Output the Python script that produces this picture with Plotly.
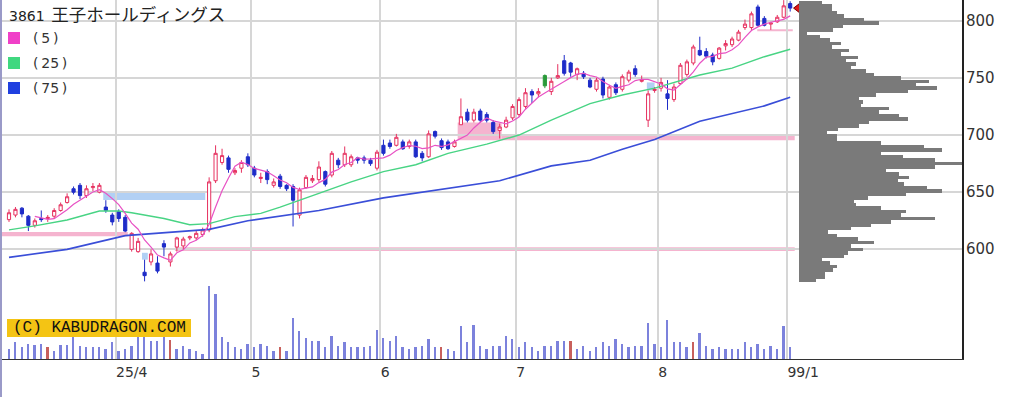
import plotly.graph_objects as go
import pandas as pd

# ---------------- data ----------------
TITLE_CODE = "3861"
TITLE_NAME = "王子ホールディングス"

opens = [626, 630, 636, 629, 621, 627, 627, 629, 634, 641, 653, 656, 647, 654, 650,
         637, 630, 633, 628, 600, 598, 580, 589, 588, 605, 589, 602, 603, 610, 610,
         613, 617, 660, 676, 680, 667, 671, 681, 671, 662, 668, 656, 664, 656, 655,
         630, 654, 660, 661, 668, 665, 678, 674, 674, 680, 680, 678, 671, 691, 693,
         691, 694, 690, 694, 684, 681, 703, 695, 694, 690, 709, 720, 713, 721, 718,
         711, 704, 707, 715, 718, 725, 738, 736, 752, 738, 750, 765, 763, 753, 754,
         748, 740, 749, 733, 744, 740, 748, 758, 747, 713, 739, 741, 736, 731, 745,
         753, 763, 774, 773, 770, 767, 778, 779, 783, 794, 794, 812, 802, 797, 799,
         803, 815]
highs = [635, 637, 637, 630, 627, 634, 630, 636, 641, 649, 655, 658, 656, 658, 658,
         643, 632, 635, 630, 615, 610, 591, 600, 594, 608, 598, 611, 611, 612, 616,
         619, 663, 691, 688, 682, 671, 678, 684, 673, 667, 670, 662, 666, 657, 657,
         654, 665, 665, 677, 669, 686, 680, 690, 683, 681, 682, 680, 687, 696, 696,
         701, 696, 696, 696, 686, 704, 704, 697, 696, 696, 732, 723, 723, 723, 720,
         713, 710, 716, 727, 733, 741, 740, 741, 753, 750, 762, 770, 764, 759, 756,
         750, 750, 751, 744, 746, 753, 757, 761, 752, 739, 742, 750, 748, 745, 763,
         766, 779, 786, 776, 772, 777, 783, 786, 792, 801, 808, 814, 804, 799, 805,
         818, 817]
lows = [624, 628, 628, 616, 619, 624, 624, 627, 633, 640, 648, 644, 645, 651, 649,
        632, 621, 624, 615, 598, 597, 572, 586, 579, 594, 585, 598, 600, 608, 608,
        611, 615, 658, 674, 667, 665, 667, 672, 663, 658, 657, 654, 653, 651, 620,
        627, 653, 658, 659, 655, 663, 671, 672, 672, 675, 675, 673, 669, 682, 688,
        690, 687, 688, 680, 677, 680, 697, 687, 687, 689, 709, 711, 711, 711, 711,
        701, 697, 706, 713, 716, 723, 728, 733, 741, 735, 749, 752, 751, 748, 749,
        741, 738, 732, 731, 735, 738, 746, 751, 746, 707, 737, 738, 722, 729, 744,
        751, 761, 769, 767, 761, 766, 774, 777, 782, 792, 792, 795, 795, 792, 798,
        802, 808]
closes = [632, 635, 631, 621, 625, 626, 628, 634, 639, 646, 650, 647, 653, 655, 656,
          634, 624, 627, 616, 614, 607, 577, 596, 581, 602, 596, 610, 609, 611, 614,
          617, 659, 684, 682, 670, 669, 676, 674, 665, 663, 661, 659, 655, 653, 643,
          652, 663, 662, 672, 657, 684, 674, 684, 681, 678, 678, 675, 685, 684, 690,
          698, 688, 694, 681, 680, 701, 699, 689, 688, 694, 716, 713, 720, 713, 713,
          703, 707, 713, 725, 731, 737, 735, 738, 743, 747, 752, 754, 755, 758, 751,
          742, 748, 735, 742, 737, 751, 755, 753, 748, 736, 740, 746, 732, 742, 761,
          764, 777, 770, 769, 764, 776, 780, 784, 790, 797, 806, 796, 796, 798, 803,
          813, 811]
volume = [100, 167, 117, 150, 137, 150, 117, 83, 137, 137, 227, 133, 117, 117, 117,
          100, 167, 83, 100, 133, 227, 227, 183, 183, 227, 193, 100, 133, 100, 83,
          53, 733, 653, 217, 167, 117, 103, 150, 117, 150, 133, 83, 117, 83, 407,
          277, 210, 183, 183, 117, 227, 133, 167, 117, 117, 117, 133, 293, 210, 183,
          227, 117, 100, 117, 133, 200, 117, 117, 100, 83, 327, 167, 343, 133, 100,
          133, 133, 227, 200, 117, 167, 117, 83, 133, 133, 183, 183, 183, 100, 133,
          83, 117, 167, 133, 200, 150, 117, 133, 133, 360, 150, 117, 393, 167, 167,
          117, 167, 260, 133, 100, 117, 100, 100, 100, 167, 117, 150, 100, 133, 100,
          333, 117]
red_volume_days = [6, 25, 42, 67, 87, 106]
special_day = 83  # green candle

ma25_days = [0, 4, 9, 14, 17, 19, 24, 28, 31, 35, 39, 42, 48, 53, 58, 63, 68, 74,
             79, 84, 90, 95, 100, 107, 112, 117, 121]
ma25_vals = [617, 620.5, 625.7, 633.5, 633.5, 632, 627, 621.5, 622.5, 628.6, 631.5,
             637, 649, 659, 668, 674, 684, 692, 700, 713, 727.5, 735, 741, 752.5,
             758.5, 768.5, 775]
ma75_days = [0, 9, 18, 24, 31, 37, 48, 58, 68, 76, 84, 90, 95, 100, 107, 112, 117, 121]
ma75_vals = [593, 600, 612, 614.5, 617.5, 625, 634, 645, 653.5, 660, 673, 678,
             687.5, 696, 712, 719, 725.5, 733]

profile_prices = list(range(816, 572, -3))
profile_vol = [23, 33, 33, 38, 44, 64, 79, 43, 34, 8, 21, 31, 41, 33, 49, 41, 58, 46,
               56, 51, 66, 74, 101, 128, 116, 136, 108, 76, 59, 63, 61, 89, 79, 99,
               108, 69, 59, 39, 28, 38, 38, 81, 123, 141, 81, 103, 134, 161, 134, 86,
               99, 109, 98, 104, 126, 141, 106, 68, 54, 56, 81, 106, 101, 134, 91, 71,
               51, 29, 38, 58, 74, 51, 63, 48, 44, 23, 31, 38, 34, 26, 26, 17]

month_bounds = [16.5, 37.5, 57.5, 78.5, 100.5, 120.5]
month_labels = ["25/4", "5", "6", "7", "8", "99/1"]
price_ticks = [600, 650, 700, 750, 800]

# support / window zones: (from day, to day, low price, high price)
pink_zones = [(-1.1, 18.4, 611.5, 615.2), (25.7, 121.7, 598.6, 601.8),
              (69.5, 76.3, 695.5, 711.0), (76.3, 121.7, 695.5, 699.5),
              (115.9, 121.4, 790.8, 792.6)]
blue_zones = [(14.6, 30.4, 643.2, 649.3), (20.6, 21.5, 591.0, 597.0),
              (98.8, 100.0, 739.0, 746.0)]

legend_items = [("(&#8201;5&#8201;)", "#f040c8"), ("(&#8201;25&#8201;)", "#40d880"),
                ("(&#8201;75&#8201;)", "#2040e0")]
COPYRIGHT = "(C) KABUDRAGON.COM"

# ---------------- figure ----------------
RED = "#e6305f"
BLUE = "#1e2cc8"
GREEN = "#2a9a3a"

W, H = 1025, 397
ML, MR, MT, MB = 2, 63, 0, 38
PW, PH = W - ML - MR, H - MT - MB


def xp(px):
    return (px - ML) / PW


def yp(py):
    return (PH + MT - py) / PH


days = list(range(len(closes)))
normal = [i for i in days if i != special_day]
ma5 = pd.Series(closes, dtype=float).rolling(5).mean()

fig = go.Figure()

# volume bars
fig.add_trace(go.Bar(
    x=days, y=volume, yaxis="y2",
    marker=dict(color=["#c8605c" if i in red_volume_days else "#7c82dc" for i in days],
                line=dict(width=0)),
    width=0.28, hoverinfo="skip"))

# candles
fig.add_trace(go.Candlestick(
    x=normal,
    open=[opens[i] for i in normal], high=[highs[i] for i in normal],
    low=[lows[i] for i in normal], close=[closes[i] for i in normal],
    increasing=dict(line=dict(color=RED, width=1), fillcolor="white"),
    decreasing=dict(line=dict(color=BLUE, width=1), fillcolor=BLUE),
    whiskerwidth=0, hoverinfo="skip"))
fig.add_trace(go.Candlestick(
    x=[special_day], open=[opens[special_day]], high=[highs[special_day]],
    low=[lows[special_day]], close=[closes[special_day]],
    increasing=dict(line=dict(color=GREEN, width=1), fillcolor=GREEN),
    decreasing=dict(line=dict(color=GREEN, width=1), fillcolor=GREEN),
    hoverinfo="skip"))

# moving averages
fig.add_trace(go.Scatter(x=ma75_days, y=ma75_vals, mode="lines",
                         line=dict(color="#3a4ed8", width=1.6), hoverinfo="skip"))
fig.add_trace(go.Scatter(x=ma25_days, y=ma25_vals, mode="lines",
                         line=dict(color="#48d484", width=1.4), hoverinfo="skip"))
fig.add_trace(go.Scatter(x=days, y=ma5, mode="lines",
                         line=dict(color="#e852c4", width=1.2), hoverinfo="skip"))

# last price marker
fig.add_trace(go.Scatter(x=[days[-1] + 1.3], y=[closes[-1]], mode="markers",
                         marker=dict(symbol="triangle-left", size=10, color="#e01818",
                                     line=dict(color="#7a0000", width=1)),
                         hoverinfo="skip"))

# volume-by-price profile
fig.add_trace(go.Bar(x=profile_vol, y=profile_prices, orientation="h",
                     xaxis="x3", yaxis="y", width=3,
                     marker=dict(color="#7a7a7a", line=dict(width=0)),
                     hoverinfo="skip"))

shapes = []
for x0, x1, y0, y1 in pink_zones:
    shapes.append(dict(type="rect", xref="x", yref="y", x0=x0, x1=x1, y0=y0, y1=y1,
                       fillcolor="#f5b4cf", line=dict(width=0), layer="below"))
for x0, x1, y0, y1 in blue_zones:
    shapes.append(dict(type="rect", xref="x", yref="y", x0=x0, x1=x1, y0=y0, y1=y1,
                       fillcolor="#b2d0f4", line=dict(width=0), layer="below"))
# title and legend backgrounds
shapes.append(dict(type="rect", xref="paper", yref="paper", x0=xp(3), x1=xp(238),
                   y0=yp(25), y1=yp(0), fillcolor="white", line=dict(width=0), layer="below"))
shapes.append(dict(type="rect", xref="paper", yref="paper", x0=xp(3), x1=xp(77),
                   y0=yp(100), y1=yp(25), fillcolor="white", line=dict(width=0), layer="below"))
annotations = [dict(xref="paper", yref="paper", x=xp(7), y=yp(13), xanchor="left",
                    yanchor="middle", showarrow=False,
                    text=(f"<span style='font-size:14px;font-family:DejaVu Sans'>{TITLE_CODE}"
                          f"&#8201;</span> {TITLE_NAME}"),
                    font=dict(family="Noto Sans CJK JP", size=17.5, color="#222"))]
for k, (label, col) in enumerate(legend_items):
    cy = 38 + 25 * k
    shapes.append(dict(type="rect", xref="paper", yref="paper", x0=xp(8), x1=xp(20),
                       y0=yp(cy + 6), y1=yp(cy - 6), fillcolor=col, line=dict(width=0),
                       layer="above"))
    annotations.append(dict(xref="paper", yref="paper", x=xp(31), y=yp(cy),
                            xanchor="left", yanchor="middle", showarrow=False, text=label,
                            font=dict(family="DejaVu Sans", size=14, color="#333")))
# price axis labels, just right of the axis line
for t in price_ticks:
    annotations.append(dict(xref="paper", yref="y", x=xp(964), y=t, xanchor="left",
                            yanchor="middle", showarrow=False, text=str(t),
                            font=dict(family="DejaVu Sans", size=15, color="#333")))
# copyright badge
shapes.append(dict(type="rect", xref="paper", yref="paper", x0=xp(7), x1=xp(191),
                   y0=yp(337), y1=yp(319), fillcolor="#f4c414", line=dict(width=0),
                   layer="above"))
annotations.append(dict(xref="paper", yref="paper", x=xp(99), y=yp(328), xanchor="center",
                        yanchor="middle", showarrow=False, text=COPYRIGHT,
                        font=dict(family="Liberation Mono", size=16, color="#111")))
# left page border
shapes.append(dict(type="line", xref="paper", yref="paper", x0=xp(1), x1=xp(1),
                   y0=yp(397), y1=yp(0), line=dict(color="#9a9ac8", width=2), layer="above"))

fig.update_layout(
    width=W, height=H, margin=dict(l=ML, r=MR, t=MT, b=MB),
    plot_bgcolor="white", paper_bgcolor="white", showlegend=False,
    hovermode=False,
    shapes=shapes, annotations=annotations,
    xaxis=dict(range=[(ML - 9) / 6.456, (ML + PW - 9) / 6.456],
               tickvals=month_bounds, ticktext=month_labels,
               ticklabelposition="outside right",
               showgrid=True, gridcolor="#d6d6d6", gridwidth=1.5,
               showline=True, linecolor="#333", linewidth=1,
               ticks="", zeroline=False, rangeslider=dict(visible=False),
               tickfont=dict(family="DejaVu Sans", size=14, color="#333")),
    yaxis=dict(range=[504.1, 818.1], side="right", tickvals=price_ticks,
               showgrid=True, gridcolor="#d6d6d6", gridwidth=2,
               showline=True, linecolor="#222", linewidth=1.5,
               ticks="inside", ticklen=5, tickcolor="#222", zeroline=False,
               showticklabels=False),
    yaxis2=dict(range=[0, 3590], overlaying="y", visible=False),
    xaxis3=dict(domain=[xp(799), 1.0], range=[0, 161], anchor="y", visible=False,
                showgrid=False, zeroline=False),
    bargap=0,
)

fig.write_html("out.html", config={"displayModeBar": False},
               post_script="document.body.style.margin='0';document.body.style.overflow='hidden';")
